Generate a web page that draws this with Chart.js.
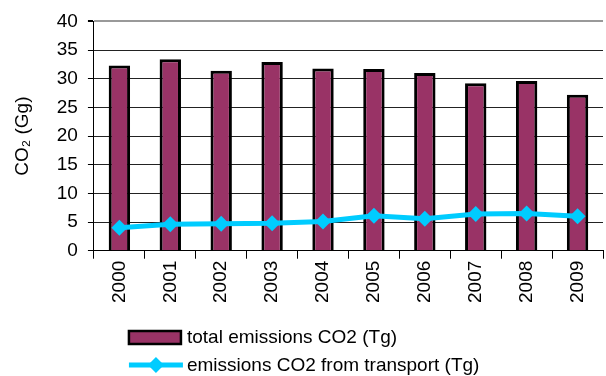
<!DOCTYPE html>
<html>
<head>
<meta charset="utf-8">
<script src="https://cdn.jsdelivr.net/npm/chart.js@4"></script>
<style>
  html, body { margin: 0; padding: 0; background: #fff; overflow: hidden; }
  #wrap { width: 611px; height: 376px; }
</style>
</head>
<body>
<div id="wrap"><canvas id="chart"></canvas></div>
<script>
const years = ['2000', '2001', '2002', '2003', '2004', '2005', '2006', '2007', '2008', '2009'];
const totalCO2 = [32.3, 33.4, 31.4, 32.9, 31.8, 31.7, 31.0, 29.2, 29.6, 27.2];
const transportCO2 = [4.0, 4.6, 4.7, 4.8, 5.1, 6.1, 5.6, 6.4, 6.5, 6.0];
const seriesNames = ['total emissions CO2 (Tg)', 'emissions CO2 from transport (Tg)'];

const FONT = { family: '"Liberation Sans", Arial, sans-serif', size: 19 };

// legend drawn by hand: bar swatch + line with diamond, stacked
const legendBelow = {
  id: 'legendBelow',
  afterDraw(chart) {
    const ctx = chart.ctx;
    const ds = chart.data.datasets;
    const bar = ds.find(d => d.type !== 'line');
    const line = ds.find(d => d.type === 'line');
    const x0 = chart.chartArea.left + 35;
    ctx.save();
    ctx.fillStyle = bar.backgroundColor;
    ctx.strokeStyle = '#000';
    ctx.lineWidth = 2.5;
    ctx.fillRect(x0, 331, 52, 13);
    ctx.strokeRect(x0, 331, 52, 13);

    ctx.strokeStyle = line.borderColor;
    ctx.fillStyle = line.borderColor;
    ctx.lineWidth = 5;
    ctx.beginPath();
    ctx.moveTo(x0, 365);
    ctx.lineTo(x0 + 54, 365);
    ctx.stroke();
    const cx = x0 + 27, r = 8;
    ctx.beginPath();
    ctx.moveTo(cx, 365 - r);
    ctx.lineTo(cx + r, 365);
    ctx.lineTo(cx, 365 + r);
    ctx.lineTo(cx - r, 365);
    ctx.closePath();
    ctx.fill();

    ctx.fillStyle = '#000';
    ctx.font = FONT.size + 'px ' + FONT.family;
    ctx.textBaseline = 'middle';
    ctx.fillText(bar.label, x0 + 58, 338);
    ctx.fillText(line.label, x0 + 58, 366);
    ctx.restore();
  }
};

const config = {
  type: 'bar',
  data: {
    labels: years,
    datasets: [
      {
        type: 'line',
        label: seriesNames[1],
        data: transportCO2,
        borderColor: '#00CCFF',
        backgroundColor: '#00CCFF',
        borderWidth: 5,
        pointStyle: 'rectRot',
        pointRadius: 8,
        pointBorderWidth: 0,
        pointBackgroundColor: '#00CCFF',
        order: 0
      },
      {
        label: seriesNames[0],
        data: totalCO2,
        backgroundColor: '#993366',
        borderColor: '#000',
        borderWidth: 3,
        barPercentage: 0.42,
        categoryPercentage: 1,
        order: 1
      }
    ]
  },
  options: {
    responsive: true,
    maintainAspectRatio: false,
    animation: false,
    layout: { padding: { left: 9, top: 10, right: 0, bottom: 71 } },
    plugins: {
      legend: { display: false },
      tooltip: { enabled: false }
    },
    scales: {
      x: {
        offset: true,
        grid: {
          offset: true,
          drawOnChartArea: false,
          drawTicks: true,
          tickLength: 8,
          color: '#000'
        },
        border: { color: '#000', width: 1 },
        ticks: { minRotation: 90, maxRotation: 90, color: '#000', font: FONT, padding: 2 }
      },
      y: {
        min: 0,
        max: 40,
        ticks: { stepSize: 5, color: '#000', font: FONT, padding: 10 },
        grid: {
          color: (c) => c.tick && c.tick.value === 40 ? '#999' : '#222',
          lineWidth: (c) => c.tick && c.tick.value === 40 ? 2 : 1,
          tickColor: '#000',
          tickLength: 6
        },
        border: { color: '#000', width: 1 },
        title: { display: true, text: 'CO₂ (Gg)', color: '#000', font: FONT, padding: { top: 2, bottom: 13 } }
      }
    }
  },
  plugins: [legendBelow]
};

const chart = new Chart(document.getElementById('chart'), config);
</script>
</body>
</html>
